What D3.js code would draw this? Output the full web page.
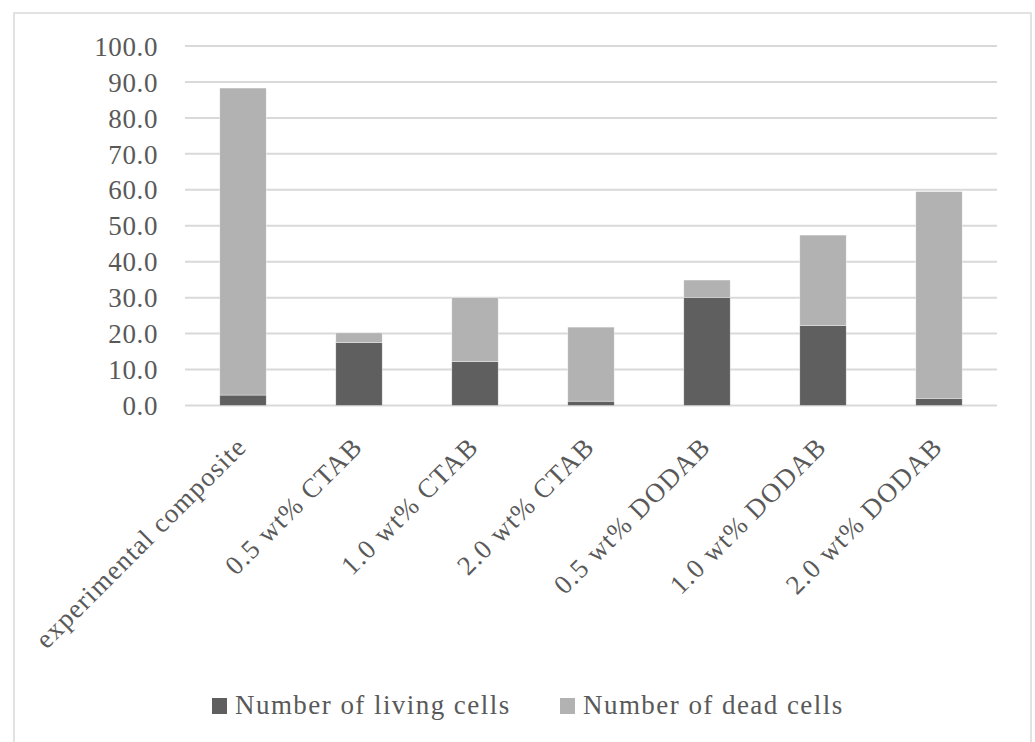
<!DOCTYPE html>
<html>
<head>
<meta charset="utf-8">
<script src="https://cdn.jsdelivr.net/npm/d3@7/dist/d3.min.js"></script>
<style>
  html, body { margin: 0; padding: 0; background: #fff; }
  svg { display: block; }
  text { font-family: "Liberation Serif", "DejaVu Serif", serif; fill: #595959; }
</style>
</head>
<body>
<script>
const categories = ["experimental composite", "0.5 wt% CTAB", "1.0 wt% CTAB", "2.0 wt% CTAB",
                    "0.5 wt% DODAB", "1.0 wt% DODAB", "2.0 wt% DODAB"];
const livingCells = [2.9, 17.5, 12.2, 1.2, 30.1, 22.2, 2.0];
const deadCells   = [85.4, 2.7, 17.8, 20.6, 4.8, 25.2, 57.5];
const seriesNames = ["Number of living cells", "Number of dead cells"];
const seriesColors = ["#5f5f5f", "#b2b2b2"];
const yTicks = [0, 10, 20, 30, 40, 50, 60, 70, 80, 90, 100];

const W = 1035, H = 742;
const svg = d3.select("body").append("svg").attr("width", W).attr("height", H);

// chart border
svg.append("rect").attr("x", 14).attr("y", 13).attr("width", 1017).attr("height", 760)
  .attr("fill", "none").attr("stroke", "#d9d9d9").attr("stroke-width", 1.5);

const plot = { left: 185, right: 997, top: 46, bottom: 405.5 };

const x = d3.scaleBand().domain(categories).range([plot.left, plot.right]).paddingInner(0.6).paddingOuter(0.3);
const y = d3.scaleLinear().domain([0, 100]).range([plot.bottom, plot.top]);

// gridlines
svg.append("g").selectAll("line").data(yTicks).join("line")
  .attr("x1", plot.left).attr("x2", plot.right)
  .attr("y1", d => y(d)).attr("y2", d => y(d))
  .attr("stroke", "#d9d9d9").attr("stroke-width", 2);

// y axis labels
const yAxis = d3.axisLeft(y).tickValues(yTicks).tickFormat(d3.format(".1f")).tickSize(0).tickPadding(0);
const gy = svg.append("g").attr("transform", `translate(${plot.left - 27},0)`).call(yAxis);
gy.select(".domain").remove();
gy.selectAll("text").style("font-size", "27px").attr("fill", "#595959")
  .style("font-family", '"Liberation Serif", serif').style("letter-spacing", "0.6px").attr("dy", "0.34em");

// stacked bars
const rows = categories.map((c, i) => ({ cat: c, living: livingCells[i], dead: deadCells[i] }));
const stack = d3.stack().keys(["living", "dead"])(rows);
svg.append("g").selectAll("g").data(stack).join("g")
  .attr("fill", (d, i) => seriesColors[i])
  .selectAll("rect").data(d => d).join("rect")
  .attr("x", d => x(d.data.cat))
  .attr("width", x.bandwidth())
  .attr("y", d => y(d[1]))
  .attr("height", d => y(d[0]) - y(d[1]))
  .attr("stroke", "#ffffff").attr("stroke-width", 0.6).attr("stroke-opacity", 0.6);

// category labels rotated
svg.append("g").selectAll("text").data(categories).join("text")
  .attr("transform", d => `translate(${x(d) + x.bandwidth() / 2 + 5},${plot.bottom + 43}) rotate(-45)`)
  .attr("text-anchor", "end")
  .style("font-size", "27px")
  .style("letter-spacing", "1.2px")
  .text(d => d);

// legend
const legendX = [212, 560];
const lg = svg.append("g").selectAll("g").data(seriesNames).join("g")
  .attr("transform", (d, i) => `translate(${legendX[i]},698)`);
lg.append("rect").attr("width", 15).attr("height", 16).attr("fill", (d, i) => seriesColors[i]);
lg.append("text").attr("x", 23).attr("y", 16).style("font-size", "27px").style("letter-spacing", "1.45px").text(d => d);
</script>
</body>
</html>
